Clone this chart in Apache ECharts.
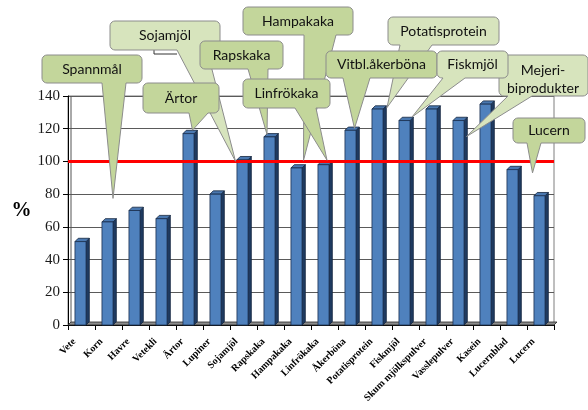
<!DOCTYPE html>
<html>
<head>
<meta charset="utf-8">
<script src="https://cdn.jsdelivr.net/npm/echarts@6/dist/echarts.min.js"></script>
<style>
html,body{margin:0;padding:0;background:#fff;}
#c{width:588px;height:410px;}
</style>
</head>
<body>
<div id="c"></div>
<script>
// ---- data ----
const categories = ['Vete','Korn','Havre','Vetekli','Ärtor','Lupiner','Sojamjöl','Rapskaka','Hampakaka','Linfrökaka','Åkerböna','Potatisprotein','Fiskmjöl','Skum mjölkspulver','Vasslepulver','Kasein','Lucernblad','Lucern'];
const values = [51, 63, 70, 65, 117, 80, 101, 115, 96, 98, 119, 132, 125, 132, 125, 135, 95, 79];
const referenceValue = 100;
const yMin = 0, yMax = 140, yStep = 20;
const axisTitle = '%';

// callouts, in drawing order (later ones cover earlier ones)
const calloutTexts   = ['Spannmål','Sojamjöl','Rapskaka','Ärtor','Hampakaka','Linfrökaka','Potatisprotein','Vitbl.åkerböna','Mejeri-\nbiprodukter','Fiskmjöl','Lucern'];
const calloutTargets = ['Korn','Sojamjöl','Rapskaka','Ärtor','Hampakaka','Linfrökaka','Potatisprotein','Åkerböna','Vasslepulver','Fiskmjöl','Lucern'];
// value the pointer aims at (null = top of the target bar)
const calloutAimValues = [78, null, null, null, null, null, null, null, null, null, 93];

// ---- layout / style (not data) ----
const calloutLayout = [
  {box:[42,55,100,28],  base:[102,126], d:[4.5,1],   shade:'dark'},
  {box:[110,21,110,29], base:[177,207], d:[-8,1.5],  shade:'light'},
  {box:[200,41,83,28],  base:[248,268], d:[-3.5,-2.5], shade:'dark'},
  {box:[143,83,76,30],  base:[189,208], d:[3,-3.5],  shade:'dark'},
  {box:[243,7,110,28],  base:[304,336], d:[6,-7.5],  shade:'dark'},
  {box:[243,79,87,29],  base:[295,316], d:[2.5,-4.5], shade:'dark'},
  {box:[388,17,111,28], base:[400,432], d:[8.5,-1.5], shade:'light'},
  {box:[326,51,111,27], base:[343,370], d:[3,-2],    shade:'dark'},
  {box:[499,55,89,41],  base:[508,532], d:[7,16],    shade:'light', text:[543,79]},
  {box:[437,51,71,27],  base:[443,465], d:[6.5,-3.5], shade:'light'},
  {box:[513,118,72,25], base:[527,541], d:[-8,0],    shade:'dark'}
];
const shadeFill = {dark:'#c3d69b', light:'#d7e4bd'};

const chart = echarts.init(document.getElementById('c'), null, {renderer:'canvas'});

function renderBar(params, api){
  const cat = api.value(0), val = api.value(1);
  const top = api.coord([cat, val]);
  const bot = api.coord([cat, 0]);
  const band = api.size([1, 0])[0];
  const w = band * 0.41, d = 3.3;
  const x0 = top[0] - 1 - w / 2;
  const yT = top[1], yB = bot[1];
  return {
    type:'group',
    children:[
      {type:'polygon', shape:{points:[[x0+w,yT],[x0+w+d,yT-d],[x0+w+d,yB-d],[x0+w,yB]]},
       style:{fill:'#1f3a60', stroke:'#14263f', lineWidth:0.8}},
      {type:'polygon', shape:{points:[[x0,yT],[x0+d,yT-d],[x0+w+d,yT-d],[x0+w,yT]]},
       style:{fill:'#4a78b0', stroke:'#14263f', lineWidth:0.8}},
      {type:'rect', shape:{x:x0, y:yT, width:w, height:yB-yT},
       style:{fill:'#4f81bd', stroke:'#1a3050', lineWidth:0.8}}
    ]
  };
}

const option = {
  animation:false,
  grid:{left:68, right:34, top:96, bottom:85, show:true, borderColor:'#7f7f7f', borderWidth:1, backgroundColor:'transparent'},
  xAxis:{
    type:'category', data:categories, boundaryGap:true,
    axisLine:{lineStyle:{color:'#000', width:1}},
    axisTick:{show:true, length:5, lineStyle:{color:'#000'}},
    axisLabel:{interval:0, rotate:45, margin:8, padding:[0,10,0,0],
      fontFamily:'Liberation Serif', fontWeight:'bold', fontSize:10, color:'#000'}
  },
  yAxis:{
    type:'value', min:yMin, max:yMax, interval:yStep,
    name:axisTitle, nameLocation:'middle', nameRotate:0, nameGap:35,
    nameTextStyle:{fontFamily:'Liberation Serif', fontWeight:'bold', fontSize:20, color:'#000'},
    axisLine:{show:true, lineStyle:{color:'#000'}},
    axisTick:{show:true, length:5, lineStyle:{color:'#000'}},
    axisLabel:{fontFamily:'Liberation Serif', fontSize:15, color:'#1a1a1a', margin:8},
    splitLine:{show:true, lineStyle:{color:'#5a5a5a', width:1}}
  },
  series:[{
    type:'custom',
    renderItem:renderBar,
    data:categories.map((c,i)=>[i, values[i]]),
    encode:{x:0, y:1},
    z:3,
    markLine:{silent:true, symbol:'none', label:{show:false},
      lineStyle:{color:'#ff0000', width:3, type:'solid'},
      data:[{yAxis:referenceValue}]}
  }]
};
chart.setOption(option);

// ---- decorations derived from the axes ----
const graphics = [];
const p0 = chart.convertToPixel({gridIndex:0}, [0, 0]);
const pN = chart.convertToPixel({gridIndex:0}, [categories.length-1, 0]);
const pTop = chart.convertToPixel({gridIndex:0}, [0, yMax]);
const bandPx = chart.convertToPixel({gridIndex:0}, [1, 0])[0] - p0[0];
const xl = p0[0] - bandPx/2, xr = pN[0] + bandPx/2, y0 = p0[1];
// floor strip
graphics.push({type:'polygon', z:2, silent:true,
  shape:{points:[[xl,y0],[xr,y0],[xr+3,y0-3],[xl+3,y0-3]]},
  style:{fill:'#8c8c8c', stroke:'#262626', lineWidth:0.8}});
// side wall line
graphics.push({type:'line', z:2, silent:true,
  shape:{x1:xl+3, y1:pTop[1], x2:xl+3, y2:y0-3},
  style:{stroke:'#555', lineWidth:1}});

function arcPts(cx, cy, r, a0, a1){
  const out = [];
  for (let k = 0; k <= 5; k++){
    const a = a0 + (a1 - a0) * k / 5;
    out.push([cx + r*Math.cos(a), cy + r*Math.sin(a)]);
  }
  return out;
}

// callouts
calloutTexts.forEach((txt, i)=>{
  const L = calloutLayout[i];
  const idx = categories.indexOf(calloutTargets[i]);
  const aim = calloutAimValues[i] == null ? values[idx] : calloutAimValues[i];
  const pt = chart.convertToPixel({gridIndex:0}, [idx, aim]);
  const tx = pt[0] + L.d[0], ty = pt[1] + L.d[1];
  const [x,y,w,h] = L.box, r = 5;
  const b1 = L.base[0], b2 = L.base[1];
  const P = Math.PI;
  const pts = [].concat(
    arcPts(x+r, y+r, r, P, 1.5*P),
    arcPts(x+w-r, y+r, r, 1.5*P, 2*P),
    arcPts(x+w-r, y+h-r, r, 0, 0.5*P),
    [[b2, y+h], [tx, ty], [b1, y+h]],
    arcPts(x+r, y+h-r, r, 0.5*P, P)
  );
  graphics.push({type:'polygon', z:100+i*2, silent:true,
    shape:{points:pts},
    style:{fill:shadeFill[L.shade], stroke:'#8c8c8c', lineWidth:1}});
  const tp = L.text || [x+w/2, y+h/2];
  graphics.push({type:'text', z:101+i*2, silent:true,
    style:{text:txt, x:tp[0], y:tp[1], align:'center', verticalAlign:'middle',
      font:'14px Lato', fill:'#111', lineHeight:18}});
});
// small connector mark under the Sojamjöl box
graphics.push({type:'polyline', z:101, silent:true,
  shape:{points:[[154,50],[154,54],[177,54]]}, style:{stroke:'#333', lineWidth:1}});

chart.setOption({graphic:graphics});
</script>
</body>
</html>
